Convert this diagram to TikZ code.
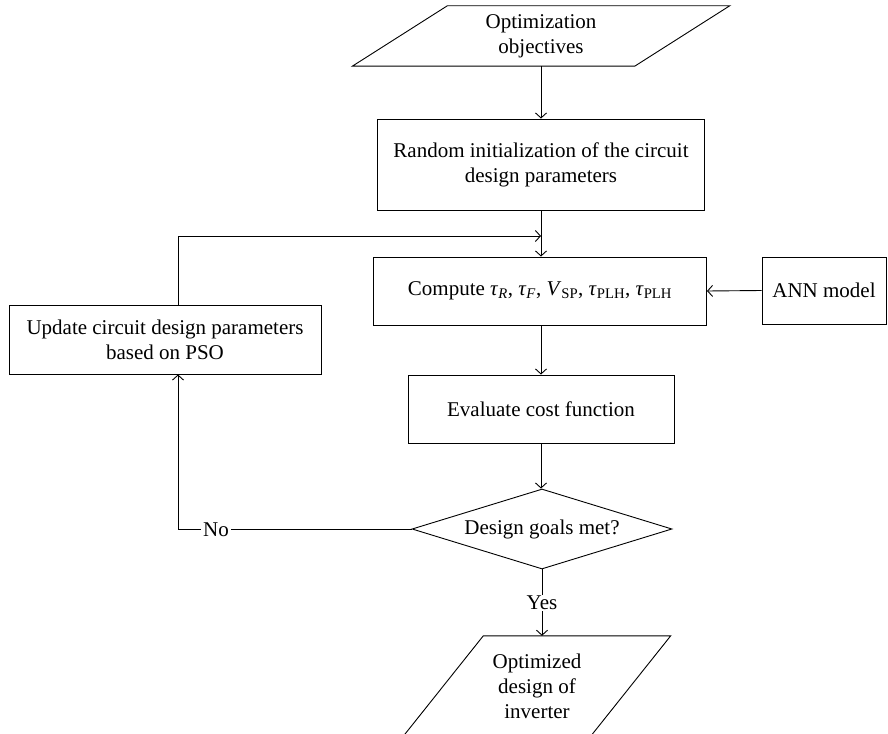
\documentclass[tikz,border=0pt]{standalone}
\usepackage{fontspec}
\setmainfont{Liberation Serif}
\usetikzlibrary{arrows.meta,shapes.geometric,calc}
\newcommand\ttau[1]{\textit{τ}\textsubscript{#1}}
\begin{document}
\begin{tikzpicture}[x=1pt,y=-1pt,
  every node/.style={font=\fontsize{21}{25}\selectfont, align=center, inner sep=0pt},
  box/.style={draw, line width=0.9pt},
  slanted/.style={minimum width=#1},
  decision/.style={draw, line width=0.9pt, diamond, aspect=3.25,
                   minimum width=260, minimum height=80},
  plain/.style={line width=0.9pt},
  flow/.style={line width=0.9pt,
               -{Straight Barb[length=5pt,width=11pt,line width=0.9pt]}},
  tag/.style={fill=white, inner xsep=2pt, inner ysep=1pt}
]
\useasboundingbox (0,0) rectangle (888,733);
\clip (0,0) rectangle (888,733);

% input / output blocks (text holders, outlines drawn below)
\node[minimum width=282, minimum height=60] (obj) at (541,36) {Optimization\\objectives};
\node[minimum width=187, minimum height=100] (out) at (537,686) {Optimized\\design of\\inverter};

% process blocks
\node[box, minimum width=327, minimum height=91] (rand) at (541,164.5)
  {Random initialization of the circuit\\design parameters};
\node[box, minimum width=333, minimum height=68] (comp) at (540,291)
  {Compute \ttau{\textit{R}}, \ttau{\textit{F}}, \textit{V}\textsubscript{SP}, \ttau{PLH}, \ttau{PLH}};
\node[box, minimum width=124, minimum height=67] (ann) at (824,290.5) {ANN model};
\node[box, minimum width=312, minimum height=69] (upd) at (165,339.5)
  {Update circuit design parameters\\based on PSO};
\node[box, minimum width=266, minimum height=68] (eval) at (541,409) {Evaluate cost function};
\node[decision] (goal) at (542,529) {Design goals met?};

% parallelogram outlines
\draw[plain] ([xshift=-47.5pt]obj.south west) -- ([xshift=47.5pt]obj.north west)
  -- ([xshift=47.5pt]obj.north east) -- ([xshift=-47.5pt]obj.south east) -- cycle;
\draw[plain] ([xshift=-40pt]out.south west) -- ([xshift=40pt]out.north west)
  -- ([xshift=40pt]out.north east) -- ([xshift=-40pt]out.south east) -- cycle;

% helper points of the feedback loop
\coordinate (merge) at (541,236);
\coordinate (loopx) at (178,0);

% main flow
\draw[flow] (obj.south -| merge) -- (merge |- rand.north);
\draw[flow] (rand.south -| merge) -- (merge |- comp.north);
\draw[flow] (ann.west) -- (comp.east);
\draw[flow] (comp.south -| merge) -- (merge |- eval.north);
\draw[flow] (eval.south -| merge) -- (merge |- goal.north);
\draw[flow] (goal.south) -- (goal.south |- out.north);
\node[tag] (yes) at (542,603) {Yes};

% feedback loop
\draw[flow] (goal.west) -| (loopx |- upd.south);
\node[tag] (no) at (216,530) {No};
\draw[flow] (loopx |- upd.north) |- (merge);
\end{tikzpicture}
\end{document}
